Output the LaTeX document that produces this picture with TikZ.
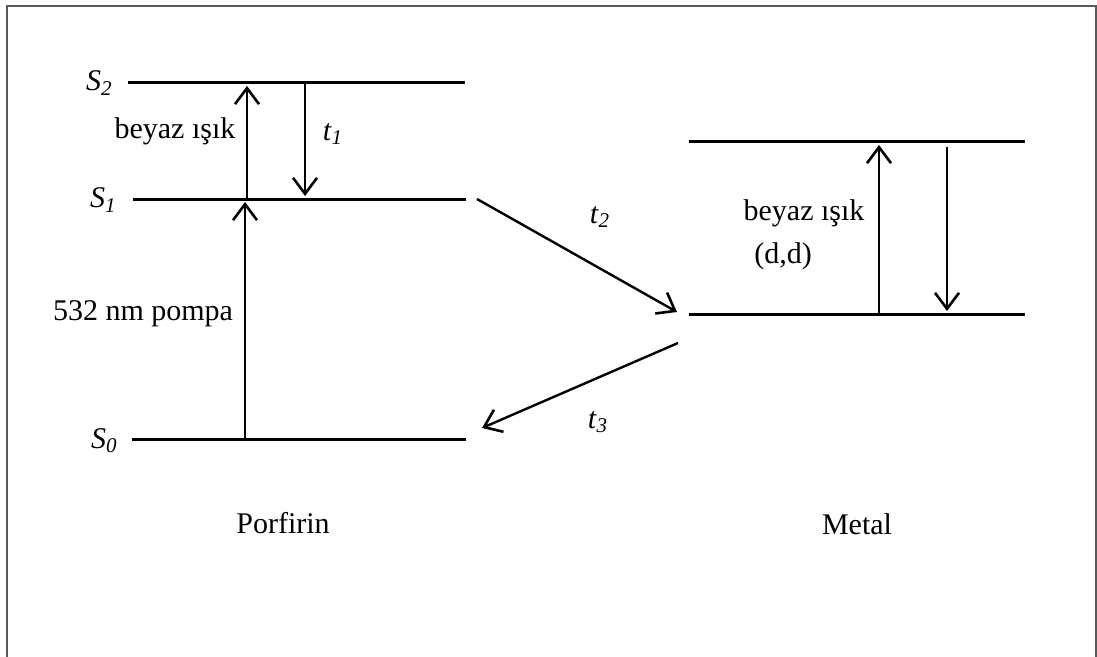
\documentclass[tikz,border=0pt]{standalone}
\usepackage{fontspec}
\setmainfont{Liberation Serif}
\usepackage{tikz}
\usetikzlibrary{arrows.meta}

\newcommand{\lvlname}[2]{\textit{#1}\textsubscript{\textit{#2}}}

\begin{document}
\begin{tikzpicture}[x=0.5pt, y=-0.5pt,
  level/.style={line width=1.5pt},
  arrow/.style={line width=1.2pt, -{Straight Barb[length=8pt, width=12pt, line width=1.3pt]}},
  lbl/.style={font=\fontsize{15}{18}\selectfont, inner sep=0pt},
]
\useasboundingbox (0,0) rectangle (1097,657);
\draw[gray!70!black, line width=1pt] (7,670) -- (7,6) -- (1096,6) -- (1096,670);

% porfirin levels
\coordinate (s2l) at (128,83);  \coordinate (s2r) at (465,83);
\coordinate (s1l) at (133,200); \coordinate (s1r) at (466,200);
\coordinate (s0l) at (132,439); \coordinate (s0r) at (466,439);
\draw[level] (s2l) -- (s2r);
\draw[level] (s1l) -- (s1r);
\draw[level] (s0l) -- (s0r);

\node[lbl, anchor=east] (s2) at (113,83) {\lvlname{S}{2}};
\node[lbl, anchor=east] (s1) at (117,200) {\lvlname{S}{1}};
\node[lbl, anchor=east] (s0) at (118,441) {\lvlname{S}{0}};

% metal levels
\coordinate (m2l) at (689,142); \coordinate (m2r) at (1025,142);
\coordinate (m1l) at (689,315); \coordinate (m1r) at (1025,315);
\draw[level] (m2l) -- (m2r);
\draw[level] (m1l) -- (m1r);

% transitions
\coordinate (wa) at (247,200); \coordinate (wb) at (247,86);
\coordinate (ta) at (305,84);  \coordinate (tb) at (305,196);
\coordinate (pa) at (245,438); \coordinate (pb) at (245,202);
\coordinate (ca) at (477,199); \coordinate (cb) at (677,312);
\coordinate (da) at (678,343); \coordinate (db) at (482,428);
\coordinate (ma) at (879,315); \coordinate (mb) at (879,145);
\coordinate (na) at (947,147); \coordinate (nb) at (947,311);
\draw[arrow] (wa) -- (wb);
\draw[arrow] (ta) -- (tb);
\draw[arrow] (pa) -- (pb);
\draw[arrow] (ca) -- (cb);
\draw[arrow] (da) -- (db);
\draw[arrow] (ma) -- (mb);
\draw[arrow] (na) -- (nb);

\node[lbl] (white1) at (175,131) {beyaz ışık};
\node[lbl] (t1) at (333,134) {\lvlname{t}{1}};
\node[lbl] (pump) at (143,314) {532 nm pompa};
\node[lbl] (t2) at (600,217) {\lvlname{t}{2}};
\node[lbl] (t3) at (598,422) {\lvlname{t}{3}};
\node[lbl] (white2) at (804,213) {beyaz ışık};
\node[lbl] (dd) at (783,256) {(d,d)};
\node[lbl] (porf) at (283,523) {Porfirin};
\node[lbl] (metal) at (857,524) {Metal};

\end{tikzpicture}
\end{document}
